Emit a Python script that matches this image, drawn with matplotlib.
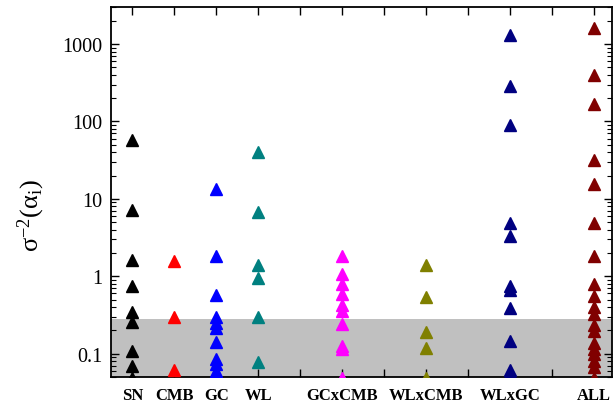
import matplotlib
matplotlib.use('Agg')
import matplotlib.pyplot as plt
import numpy as np
from matplotlib.ticker import FixedLocator, LogLocator, NullFormatter

plt.rcParams['font.family'] = ['Liberation Serif', 'DejaVu Serif']
plt.rcParams['mathtext.fontset'] = 'custom'
plt.rcParams['mathtext.rm'] = 'Liberation Serif'
plt.rcParams['mathtext.it'] = 'Liberation Serif:italic'

# probe positions on the x axis and their names
probes = ['SN', 'CMB', 'GC', 'WL', 'GCxCMB', 'WLxCMB', 'WLxGC', 'ALL']
probe_x = [1, 2, 3, 4, 6, 8, 10, 12]
colors = ['black', 'red', 'blue', '#008080', 'magenta', '#808000', '#000080', '#800000']

# values (points below 0.05 are cut by the axis)
sn = [58, 7.2, 1.64, 0.76, 0.343, 0.26, 0.108, 0.070, 0.048]
cmb = [1.59, 0.30, 0.062]
gc = [13.6, 1.84, 0.58, 0.296, 0.25, 0.215, 0.141, 0.086, 0.074, 0.060, 0.052]
wl = [40.5, 6.7, 1.41, 0.95, 0.296, 0.078]
gcxcmb = [1.84, 1.07, 0.80, 0.59, 0.42, 0.36, 0.24, 0.127, 0.115, 0.048]
wlxcmb = [1.41, 0.54, 0.19, 0.119, 0.048]
wlxgc = [1310, 283, 89.6, 4.87, 3.28, 0.74, 0.67, 0.39, 0.145, 0.062, 0.056]
all_probes = [1600, 396, 166, 31.7, 15.5, 4.87, 1.85, 0.80, 0.56, 0.40, 0.33,
              0.235, 0.195, 0.138, 0.115, 0.099, 0.081, 0.068, 0.048]
series = [sn, cmb, gc, wl, gcxcmb, wlxcmb, wlxgc, all_probes]

band_top = 0.28
ylim = (0.05, 3000)

fig = plt.figure(figsize=(6.13, 4.06), dpi=100)
ax = fig.add_axes([0.181, 0.069, 0.817, 0.911])

ax.axhspan(ylim[0] * 0.5, band_top, color='#c0c0c0', lw=0, zorder=0)

for x, vals, c in zip(probe_x, series, colors):
    ax.plot([x] * len(vals), vals, '^', color=c, ms=8.8, mec=c, zorder=3, clip_on=True)

ax.set_yscale('log')
ax.set_ylim(*ylim)
ax.set_xlim(0.49, 12.42)

ax.xaxis.set_major_locator(FixedLocator(range(1, 13)))
labels = []
for i in range(1, 13):
    labels.append(probes[probe_x.index(i)] if i in probe_x else '')
ax.set_xticklabels(labels, fontweight='bold', fontsize=12)

ax.yaxis.set_major_locator(FixedLocator([0.1, 1, 10, 100, 1000]))
ax.set_yticklabels(['0.1', '1', '10', '100', '1000'], fontsize=14.5)
ax.yaxis.set_minor_locator(LogLocator(base=10, subs=np.arange(2, 10)))
ax.yaxis.set_minor_formatter(NullFormatter())

ax.tick_params(axis='both', which='major', direction='in', length=6, width=1,
               top=True, right=True)
ax.tick_params(axis='both', which='minor', direction='in', length=3.5, width=0.8,
               top=True, right=True)
ax.tick_params(axis='x', pad=7.5)
ax.tick_params(axis='y', pad=6)
for s in ax.spines.values():
    s.set_linewidth(1.3)

ax.set_ylabel(r'σ$^{-2}$(α$_\mathrm{i}$)', fontsize=19)
ax.yaxis.set_label_coords(-0.128, 0.44)

fig.savefig('out.png', dpi=100)
